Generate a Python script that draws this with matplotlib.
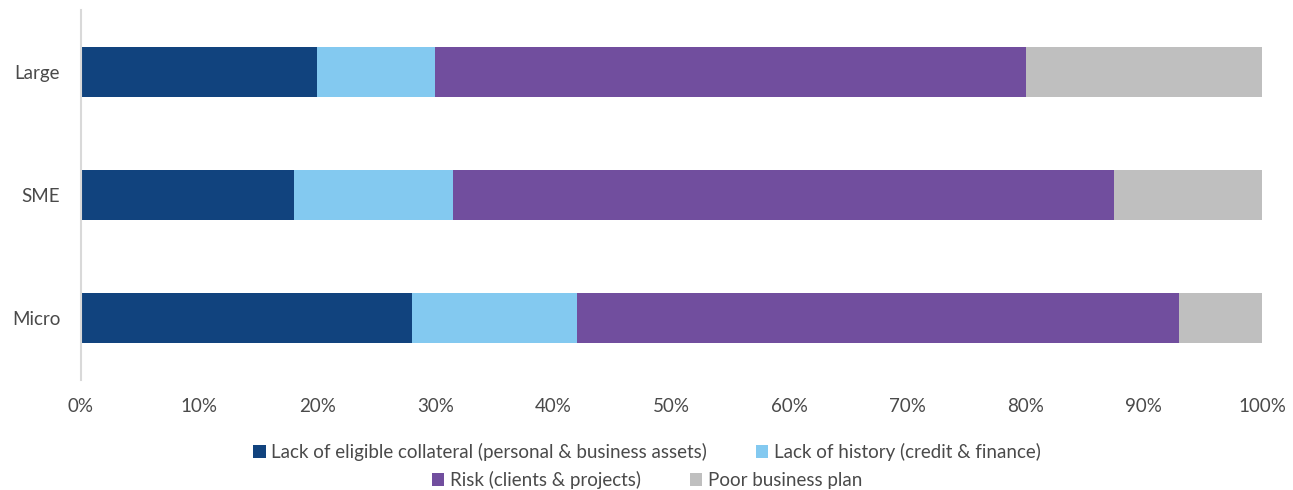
import matplotlib
matplotlib.use('Agg')
import matplotlib.pyplot as plt
from matplotlib.patches import Patch
from matplotlib.ticker import PercentFormatter
import numpy as np

plt.rcParams['font.family'] = ['Lato', 'DejaVu Sans']

categories = ['Large', 'SME', 'Micro']
collateral = [20.0, 18.0, 28.0]
history = [10.0, 13.5, 14.0]
risk = [50.0, 56.0, 51.0]
business_plan = [20.0, 12.5, 7.0]

labels = ['Lack of eligible collateral (personal & business assets)',
          'Lack of history (credit & finance)',
          'Risk (clients & projects)',
          'Poor business plan']
colors = ['#11437E', '#83C9F0', '#714E9E', '#BFBFBF']
text_color = '#4A4A4A'

fig = plt.figure(figsize=(12.93, 4.9), dpi=100)
ax = fig.add_axes([81 / 1293, 110 / 490, 1181 / 1293, 370 / 490])

y = np.arange(len(categories))
left = np.zeros(len(categories))
for vals, col in zip([collateral, history, risk, business_plan], colors):
    ax.barh(y, vals, left=left, height=0.405, color=col)
    left += np.array(vals)

ax.set_xlim(0, 100)
ax.set_ylim(2.5, -0.5)
ax.set_yticks(y)
ax.set_yticklabels(categories)
ax.set_xticks(np.arange(0, 101, 10))
ax.xaxis.set_major_formatter(PercentFormatter(decimals=0))
ax.tick_params(axis='both', length=0, labelsize=13.5, labelcolor=text_color)
ax.tick_params(axis='x', pad=13)
ax.tick_params(axis='y', pad=15)

for s in ['top', 'right', 'bottom']:
    ax.spines[s].set_visible(False)
ax.spines['left'].set_color('#D9D9D9')
ax.spines['left'].set_linewidth(1.5)

# two legend rows, each centred on its own
handles = [Patch(facecolor=c, edgecolor='none') for c in colors]
leg_kw = dict(ncol=2, frameon=False, fontsize=13.5, handlelength=0.65,
              handleheight=0.65, handletextpad=0.3, columnspacing=2.6,
              labelcolor=text_color, borderaxespad=0)
fig.legend(handles[:2], labels[:2], loc='center',
           bbox_to_anchor=(647 / 1293, 1 - 452 / 490), **leg_kw)
fig.legend(handles[2:], labels[2:], loc='center',
           bbox_to_anchor=(647 / 1293, 1 - 480 / 490), **leg_kw)

fig.savefig('out.png', dpi=100)
